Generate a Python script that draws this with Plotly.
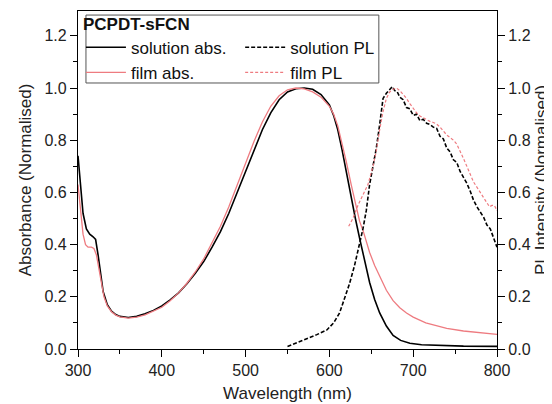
import plotly.graph_objects as go

# ---------------- data ----------------
sol_abs_x = [300, 303, 306, 310, 314, 318, 321, 324, 327, 330, 335, 340, 345, 350, 360, 370, 380, 390,
             400, 410, 420, 430, 440, 450, 460, 470, 480, 490, 500, 510, 520, 530, 540, 550, 560, 570,
             580, 590, 600, 605, 610, 615, 620, 626, 631, 636, 642, 648, 654, 660, 668, 676, 685, 696,
             710, 730, 760, 800]
sol_abs_y = [0.74, 0.62, 0.52, 0.46, 0.44, 0.43, 0.42, 0.36, 0.28, 0.22, 0.17, 0.145, 0.132, 0.125, 0.121,
             0.125, 0.135, 0.148, 0.165, 0.188, 0.215, 0.25, 0.29, 0.335, 0.39, 0.45, 0.52, 0.60, 0.68,
             0.76, 0.84, 0.905, 0.955, 0.985, 0.997, 1.0, 0.995, 0.975, 0.935, 0.895, 0.84, 0.765, 0.68,
             0.585, 0.5, 0.425, 0.335, 0.255, 0.19, 0.138, 0.088, 0.052, 0.033, 0.022, 0.016, 0.013,
             0.011, 0.01]

film_abs_x = [300, 303, 306, 309, 312, 316, 319, 322, 325, 328, 331, 335, 340, 345, 350, 360, 370, 380,
              390, 400, 410, 420, 430, 440, 450, 460, 470, 480, 490, 500, 510, 520, 530, 540, 550, 560,
              570, 580, 590, 600, 605, 610, 615, 620, 626, 631, 636, 641, 648, 654, 660, 668, 676, 684,
              692, 700, 715, 730, 740, 760, 780, 800]
film_abs_y = [0.63, 0.52, 0.44, 0.40, 0.39, 0.39, 0.385, 0.36, 0.31, 0.25, 0.20, 0.165, 0.143, 0.13,
              0.123, 0.118, 0.122, 0.131, 0.144, 0.16, 0.185, 0.215, 0.252, 0.295, 0.345, 0.405, 0.47,
              0.545, 0.63, 0.715, 0.795, 0.87, 0.93, 0.97, 0.993, 1.0, 0.997, 0.985, 0.965, 0.93, 0.9,
              0.855, 0.79, 0.72, 0.63, 0.555, 0.49, 0.445, 0.37, 0.32, 0.28, 0.225, 0.185, 0.158, 0.138,
              0.122, 0.1, 0.087, 0.079, 0.069, 0.062, 0.056]

sol_pl_x = [550, 560, 573, 585, 597, 605, 612, 618, 624, 630, 635, 640, 644, 648, 652, 656, 660, 664,
            668, 672, 675, 678, 681, 684, 688, 692, 696, 700, 704, 708, 712, 716, 720, 724, 728, 732,
            736, 740, 744, 748, 752, 756, 760, 764, 768, 772, 776, 780, 784, 788, 792, 796, 800]
sol_pl_y = [0.01, 0.022, 0.04, 0.055, 0.073, 0.10, 0.137, 0.19, 0.25, 0.32, 0.385, 0.46, 0.53, 0.63,
            0.70, 0.77, 0.86, 0.96, 0.98, 0.995, 1.005, 0.99, 0.985, 0.965, 0.955, 0.925, 0.92, 0.895,
            0.9, 0.875, 0.88, 0.865, 0.86, 0.85, 0.845, 0.815, 0.805, 0.77, 0.755, 0.725, 0.715, 0.68,
            0.66, 0.635, 0.605, 0.57, 0.545, 0.525, 0.505, 0.475, 0.46, 0.425, 0.39]

film_pl_x = [623, 628, 634, 640, 646, 652, 656, 660, 664, 668, 672, 676, 680, 684, 688, 692, 696, 700,
             704, 708, 712, 716, 720, 724, 728, 732, 736, 740, 744, 748, 752, 756, 760, 764, 768, 772,
             776, 780, 784, 788, 791, 794, 797, 800]
film_pl_y = [0.47, 0.5, 0.55, 0.59, 0.63, 0.70, 0.76, 0.84, 0.91, 0.96, 0.985, 0.995, 1.0, 0.99, 0.975,
             0.96, 0.94, 0.92, 0.905, 0.893, 0.885, 0.878, 0.872, 0.868, 0.862, 0.85, 0.835, 0.82, 0.81,
             0.8, 0.785, 0.76, 0.73, 0.7, 0.67, 0.64, 0.62, 0.6, 0.58, 0.56, 0.545, 0.55, 0.55, 0.53]

x_ticks = [300, 400, 500, 600, 700, 800]
y_ticks = [0.0, 0.2, 0.4, 0.6, 0.8, 1.0, 1.2]

RED = "#ee7b80"
FONT = "Liberation Sans, Arial, sans-serif"

fig = go.Figure()
fig.add_trace(go.Scatter(x=sol_abs_x, y=sol_abs_y, mode="lines", name="solution abs.",
                         line=dict(color="black", width=1.6), legend="legend"))
fig.add_trace(go.Scatter(x=film_abs_x, y=film_abs_y, mode="lines", name="film abs.",
                         line=dict(color=RED, width=1.3), legend="legend"))
fig.add_trace(go.Scatter(x=sol_pl_x, y=sol_pl_y, mode="lines", name="solution PL",
                         line=dict(color="black", width=1.6, dash="4px,2px"), legend="legend2",
                         yaxis="y2"))
fig.add_trace(go.Scatter(x=film_pl_x, y=film_pl_y, mode="lines", name="film PL",
                         line=dict(color=RED, width=1.2, dash="3px,2px"), legend="legend2",
                         yaxis="y2"))

axis_common = dict(showline=True, linecolor="black", linewidth=1.3, ticks="outside", ticklen=7,
                   tickwidth=1.3, tickcolor="black", showgrid=False, zeroline=False, automargin=False,
                   tickfont=dict(family=FONT, size=16, color="#222"))

fig.update_layout(
    width=544, height=396,
    margin=dict(l=70, r=55, t=3, b=55, autoexpand=False),
    paper_bgcolor="white", plot_bgcolor="white",
    font=dict(family=FONT, color="#222"),
    showlegend=True,
    xaxis=dict(range=[300, 800], tickvals=x_ticks, ticktext=[str(v) for v in x_ticks],
               mirror=True, minor=dict(ticks="outside", ticklen=4, dtick=50, tickcolor="black"),
               title=dict(text="Wavelength (nm)", font=dict(family=FONT, size=17), standoff=8),
               **axis_common),
    yaxis=dict(range=[0, 1.295], tickvals=y_ticks, ticktext=[f"{v:.1f}" for v in y_ticks],
               minor=dict(ticks="outside", ticklen=4, dtick=0.1, tickcolor="black"),
               title=dict(text="Absorbance (Normalised)", font=dict(family=FONT, size=17), standoff=8),
               **axis_common),
    yaxis2=dict(range=[0, 1.295], tickvals=y_ticks, ticktext=[f"{v:.1f}" for v in y_ticks],
                overlaying="y", side="right",
                minor=dict(ticks="outside", ticklen=4, dtick=0.1, tickcolor="black"),
                title=dict(text="PL Intensity (Normalised)", font=dict(family=FONT, size=17), standoff=5),
                **axis_common),
    legend=dict(x=0.007, y=1.01, xanchor="left", yanchor="top", bgcolor="rgba(0,0,0,0)",
                borderwidth=0, font=dict(family=FONT, size=17, color="#111"),
                title=dict(text="<b>PCPDT-sFCN</b>", font=dict(family=FONT, size=17, color="#111")),
                tracegroupgap=0, itemwidth=40),
    legend2=dict(x=0.387, y=1.01, xanchor="left", yanchor="top", bgcolor="rgba(0,0,0,0)",
                 borderwidth=0, font=dict(family=FONT, size=17, color="#111"),
                 title=dict(text=" ", font=dict(family=FONT, size=17)),
                 tracegroupgap=0, itemwidth=40),
    shapes=[dict(type="rect", xref="paper", yref="paper", x0=0.019, x1=0.718, y0=0.787, y1=0.988,
                 line=dict(color="#555", width=1), fillcolor="rgba(0,0,0,0)", layer="below")],
)

fig.write_html("out.html")
